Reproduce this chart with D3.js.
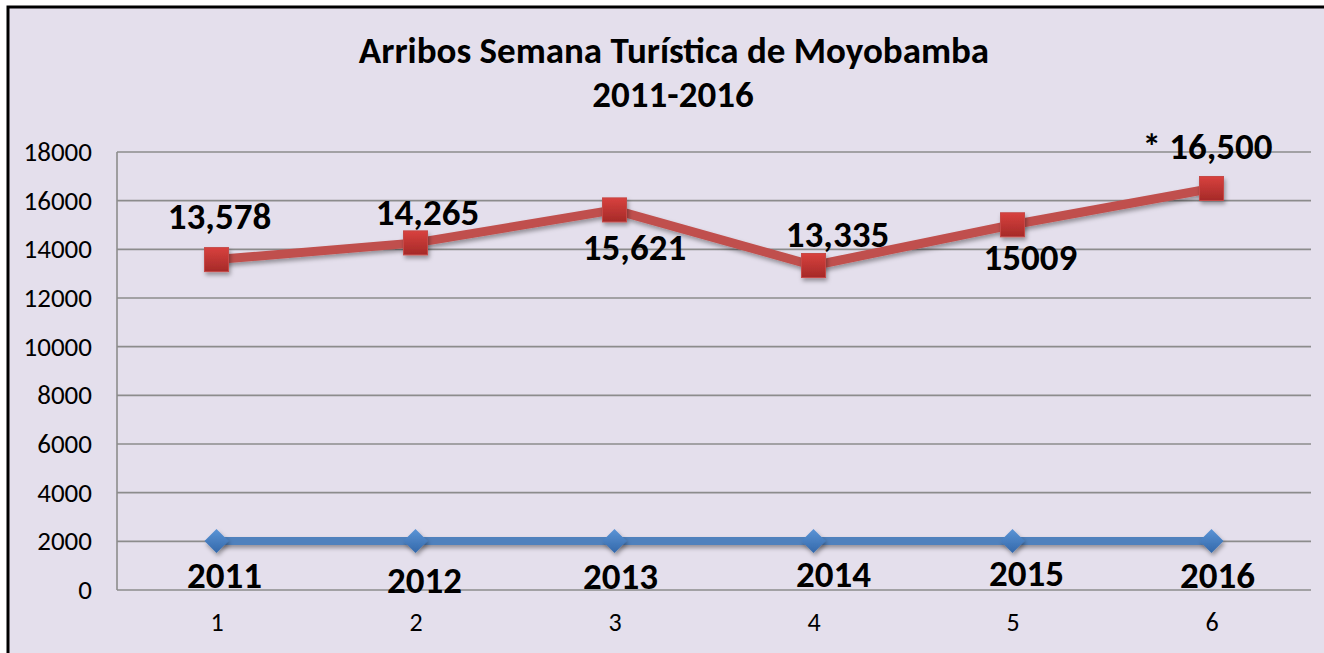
<!DOCTYPE html>
<html><head><meta charset="utf-8">
<script src="https://cdn.jsdelivr.net/npm/d3@7"></script>
<style>
html,body{margin:0;padding:0;background:#ffffff;}
svg{display:block;}
</style></head>
<body>
<svg id="chart" width="1324" height="653"></svg>
<script>
// ---- data ----
const categories = ["1", "2", "3", "4", "5", "6"];
const yearValues = [2011, 2012, 2013, 2014, 2015, 2016];          // blue series
const yearLabels = ["2011", "2012", "2013", "2014", "2015", "2016"];
const arrivalValues = [13578, 14265, 15621, 13335, 15009, 16500];  // red series
const arrivalLabels = ["13,578", "14,265", "15,621", "13,335", "15009", "* 16,500"];
const yTicks = [0, 2000, 4000, 6000, 8000, 10000, 12000, 14000, 16000, 18000];
const titleLines = ["Arribos Semana Turística de Moyobamba", "2011-2016"];

// ---- layout / style ----
const W = 1324, H = 653;
const plot = {left: 117, right: 1311, top: 152, bottom: 590};
const FONT = "Carlito, Calibri, Lato, 'Open Sans', sans-serif";
const redLabelOffset = [[3, -31], [12, -18], [20, 50], [24, -19], [18, 45], [-4, -30]];
const blueLabelOffset = [[8, 47], [9, 52], [6, 48], [20, 46], [14, 45], [6, 47]];

const svg = d3.select("#chart");
const defs = svg.append("defs");

const sh = defs.append("filter").attr("id", "shadow").attr("filterUnits", "userSpaceOnUse")
  .attr("x", 0).attr("y", 0).attr("width", W).attr("height", H);
sh.append("feDropShadow").attr("dx", 1.5).attr("dy", 3).attr("stdDeviation", 2).attr("flood-color", "#000").attr("flood-opacity", 0.35);

const gr = defs.append("linearGradient").attr("id", "gRed").attr("x1", 0).attr("y1", 0).attr("x2", 0).attr("y2", 1);
gr.append("stop").attr("offset", "0%").attr("stop-color", "#d8413e");
gr.append("stop").attr("offset", "100%").attr("stop-color", "#a52a28");
const gb = defs.append("linearGradient").attr("id", "gBlue").attr("x1", 0).attr("y1", 0).attr("x2", 0).attr("y2", 1);
gb.append("stop").attr("offset", "0%").attr("stop-color", "#5a94d6");
gb.append("stop").attr("offset", "100%").attr("stop-color", "#3468aa");

// background frame
svg.append("rect").attr("x", 8).attr("y", 7).attr("width", W + 20).attr("height", H + 20)
  .attr("fill", "#e4dfec").attr("stroke", "#000").attr("stroke-width", 3);

// title
svg.append("text").attr("x", 674).attr("y", 63).attr("text-anchor", "middle")
  .attr("font-family", FONT).attr("font-weight", "bold").attr("font-size", 37).attr("fill", "#000")
  .text(titleLines[0]);
svg.append("text").attr("x", 673).attr("y", 107).attr("text-anchor", "middle")
  .attr("font-family", FONT).attr("font-weight", "bold").attr("font-size", 37).attr("fill", "#000")
  .text(titleLines[1]);

// scales
const x = d3.scalePoint().domain(categories).range([plot.left, plot.right]).padding(0.5);
const y = d3.scaleLinear().domain([0, 18000]).range([plot.bottom, plot.top]);

// gridlines
svg.append("g").selectAll("line").data(yTicks).join("line")
  .attr("x1", plot.left).attr("x2", plot.right)
  .attr("y1", d => y(d)).attr("y2", d => y(d))
  .attr("stroke", "#8c8c8c").attr("stroke-width", 1.6);
svg.append("line").attr("x1", plot.left).attr("x2", plot.left).attr("y1", plot.top).attr("y2", plot.bottom)
  .attr("stroke", "#8c8c8c").attr("stroke-width", 1.6);

// y axis labels
const yAxis = d3.axisLeft(y).tickValues(yTicks).tickSize(0).tickPadding(25).tickFormat(d3.format("d"));
const gy = svg.append("g").attr("transform", `translate(${plot.left},0)`).call(yAxis);
gy.select(".domain").remove();
gy.attr("font-size", null).attr("font-family", null);
gy.selectAll("text").style("font-family", FONT).style("font-size", "27px").attr("fill", "#000");

// x axis labels
const xAxis = d3.axisBottom(x).tickSize(0).tickPadding(23);
const gx = svg.append("g").attr("transform", `translate(0,${plot.bottom})`).call(xAxis);
gx.select(".domain").remove();
gx.attr("font-size", null).attr("font-family", null);
gx.selectAll("text").style("font-family", FONT).style("font-size", "26px").attr("fill", "#000");

// lines
const line = d3.line().x((d, i) => x(categories[i])).y(d => y(d));
svg.append("path").datum(yearValues).attr("d", line).attr("fill", "none")
  .attr("stroke", "#4f81bd").attr("stroke-width", 8).attr("filter", "url(#shadow)");
svg.append("path").datum(arrivalValues).attr("d", line).attr("fill", "none")
  .attr("stroke", "#c0504d").attr("stroke-width", 9).attr("stroke-linejoin", "miter").attr("filter", "url(#shadow)");

// markers
const sq = 24, dm = 12;
svg.append("g").selectAll("rect").data(arrivalValues).join("rect")
  .attr("x", (d, i) => x(categories[i]) - sq / 2).attr("y", d => y(d) - sq / 2)
  .attr("width", sq).attr("height", sq)
  .attr("fill", "url(#gRed)").attr("stroke", "#c64a47").attr("stroke-width", 1)
  .attr("filter", "url(#shadow)");
svg.append("g").selectAll("path").data(yearValues).join("path")
  .attr("d", (d, i) => {
    const cx = x(categories[i]), cy = y(d);
    return `M${cx},${cy - dm}L${cx + dm},${cy}L${cx},${cy + dm}L${cx - dm},${cy}Z`;
  })
  .attr("fill", "url(#gBlue)").attr("filter", "url(#shadow)");

// data labels
svg.append("g").selectAll("text").data(arrivalLabels).join("text")
  .attr("x", (d, i) => x(categories[i]) + redLabelOffset[i][0])
  .attr("y", (d, i) => y(arrivalValues[i]) + redLabelOffset[i][1])
  .attr("text-anchor", "middle").attr("font-family", FONT).attr("font-weight", "bold")
  .attr("font-size", 37).attr("fill", "#000").text(d => d);
svg.append("g").selectAll("text").data(yearLabels).join("text")
  .attr("x", (d, i) => x(categories[i]) + blueLabelOffset[i][0])
  .attr("y", (d, i) => y(yearValues[i]) + blueLabelOffset[i][1])
  .attr("text-anchor", "middle").attr("font-family", FONT).attr("font-weight", "bold")
  .attr("font-size", 37).attr("fill", "#000").text(d => d);
</script>
</body></html>
